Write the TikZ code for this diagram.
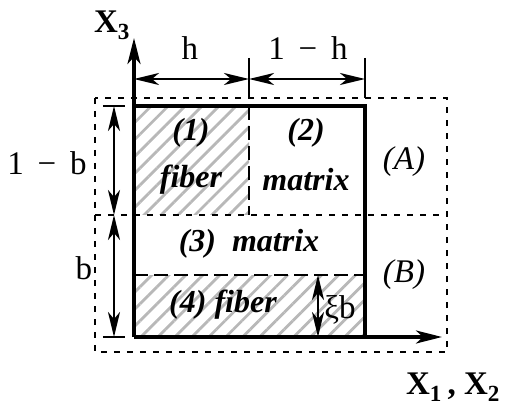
\documentclass[tikz,border=0pt]{standalone}
\usepackage{fontspec}
\setmainfont{Liberation Serif}
\usetikzlibrary{arrows.meta}
\usetikzlibrary{patterns.meta}
\definecolor{hatchgray}{gray}{0.72}
\newcommand{\wminus}{\hspace{0.42em}−\hspace{0.42em}}

\begin{document}
\begin{tikzpicture}[x=1pt, y=1pt]
    \tikzstyle{lbl} += [inner sep=0pt, font=\fontsize{33}{36}\selectfont];
    \tikzstyle{region} += [lbl, font=\fontsize{32}{36}\selectfont\bfseries\itshape];
    \tikzstyle{hatched} += [pattern={Lines[angle=45, distance=12pt, line width=2.8pt]}, pattern color=hatchgray];
    \tikzstyle{outer} += [line width=2.6pt, dash pattern=on 6pt off 7pt];
    \tikzstyle{inner} += [line width=2.6pt, dash pattern=on 14pt off 6pt];
    \useasboundingbox (-134,-73) rectangle (375,337);

    % corners of the cell and of the dashed frame
    \coordinate (o)   at (  0,   0);
    \coordinate (br)  at (231,   0);
    \coordinate (tr)  at (231, 231);
    \coordinate (tl)  at (  0, 231);
    \coordinate (mh)  at (115, 231);
    \coordinate (mm)  at (115, 122);
    \coordinate (ml)  at (  0, 122);
    \coordinate (mr)  at (231, 122);
    \coordinate (fl)  at (  0,  62);
    \coordinate (fr)  at (231,  62);
    \coordinate (fA)  at (-39, 239);
    \coordinate (fB)  at (313, -15);
    \coordinate (fml) at (-39, 122);
    \coordinate (fmr) at (313, 122);

    % hatched fiber parts
    \fill[hatched] (ml) rectangle (mh);
    \fill[hatched] (o) rectangle (fr);

    % dashed lines
    \draw[outer] (fA) rectangle (fB);
    \draw[outer] (fml) -- (fmr);
    \draw[inner] (mh) -- (mm);
    \draw[inner] (fl) -- (fr);

    % solid cell
    \draw[line width=3.2pt] (tl) -- (tr) -- (br);

    % axes
    \coordinate (x3) at (  0, 299);
    \coordinate (x1) at (308,   0);
    \begin{scope}[-{Stealth[length=26pt, width=13pt, inset=7pt]}, line width=3.2pt]
      \draw (o) -- (x3);
      \draw (o) -- (x1);
    \end{scope}

    % dimension ticks
    \coordinate (t1a) at (115, 279);
    \coordinate (t1b) at (115, 239);
    \coordinate (t2a) at (231, 279);
    \coordinate (t2b) at (231, 239);
    \coordinate (t3a) at (-31, 231);
    \coordinate (t3b) at ( -9, 231);
    \coordinate (t4a) at (-31,   0);
    \coordinate (t4b) at ( -9,   0);
    \draw[line width=2.2pt] (t1a) -- (t1b);
    \draw[line width=2.2pt] (t2a) -- (t2b);
    \draw[line width=2.2pt] (t3a) -- (t3b);
    \draw[line width=2.2pt] (t4a) -- (t4b);

    % dimension arrows
    \coordinate (dh0) at (  0, 258);
    \coordinate (dh1) at (115, 258);
    \coordinate (dh2) at (231, 258);
    \coordinate (db0) at (-20, 231);
    \coordinate (db1) at (-20, 122);
    \coordinate (db2) at (-20,   0);
    \coordinate (dx0) at (184,  62);
    \coordinate (dx1) at (184,   0);
    \begin{scope}[{Stealth[length=25pt, width=12pt, inset=7pt]}-{Stealth[length=25pt, width=12pt, inset=7pt]}, line width=2.4pt]
      \draw (dh0) -- (dh1);
      \draw (dh1) -- (dh2);
      \draw (db0) -- (db1);
      \draw (db1) -- (db2);
      \draw (dx0) -- (dx1);
    \end{scope}

    % labels
    \node (lx3) at (-22, 312) [lbl] {\textbf{X\textsubscript{3}}};
    \node (lx1) at (319, -50) [lbl] {\textbf{X\textsubscript{1}\,, X\textsubscript{2}}};
    \node (lh)  at ( 56, 289) [lbl] {h};
    \node (l1h) at (174, 289) [lbl] {1\wminus h};
    \node (l1b) at (-87, 174) [lbl] {1\wminus b};
    \node (lb)  at (-50,  69) [lbl] {b};
    \node (lxi) at (206,  27) [lbl] {ξb};
    \node (lA)  at (270, 175) [lbl] {\itshape (A)};
    \node (lB)  at (270,  62) [lbl] {\itshape (B)};

    \node (r1)  at ( 57, 204) [region] {(1)};
    \node (r1t) at ( 57, 157) [region] {fiber};
    \node (r2)  at (172, 204) [region] {(2)};
    \node (r2t) at (172, 157) [region] {matrix};
    \node (r3)  at (115,  93) [region] {(3)\ \ matrix};
    \node (r4)  at ( 89,  32) [region] {(4) fiber};
\end{tikzpicture}
\end{document}
